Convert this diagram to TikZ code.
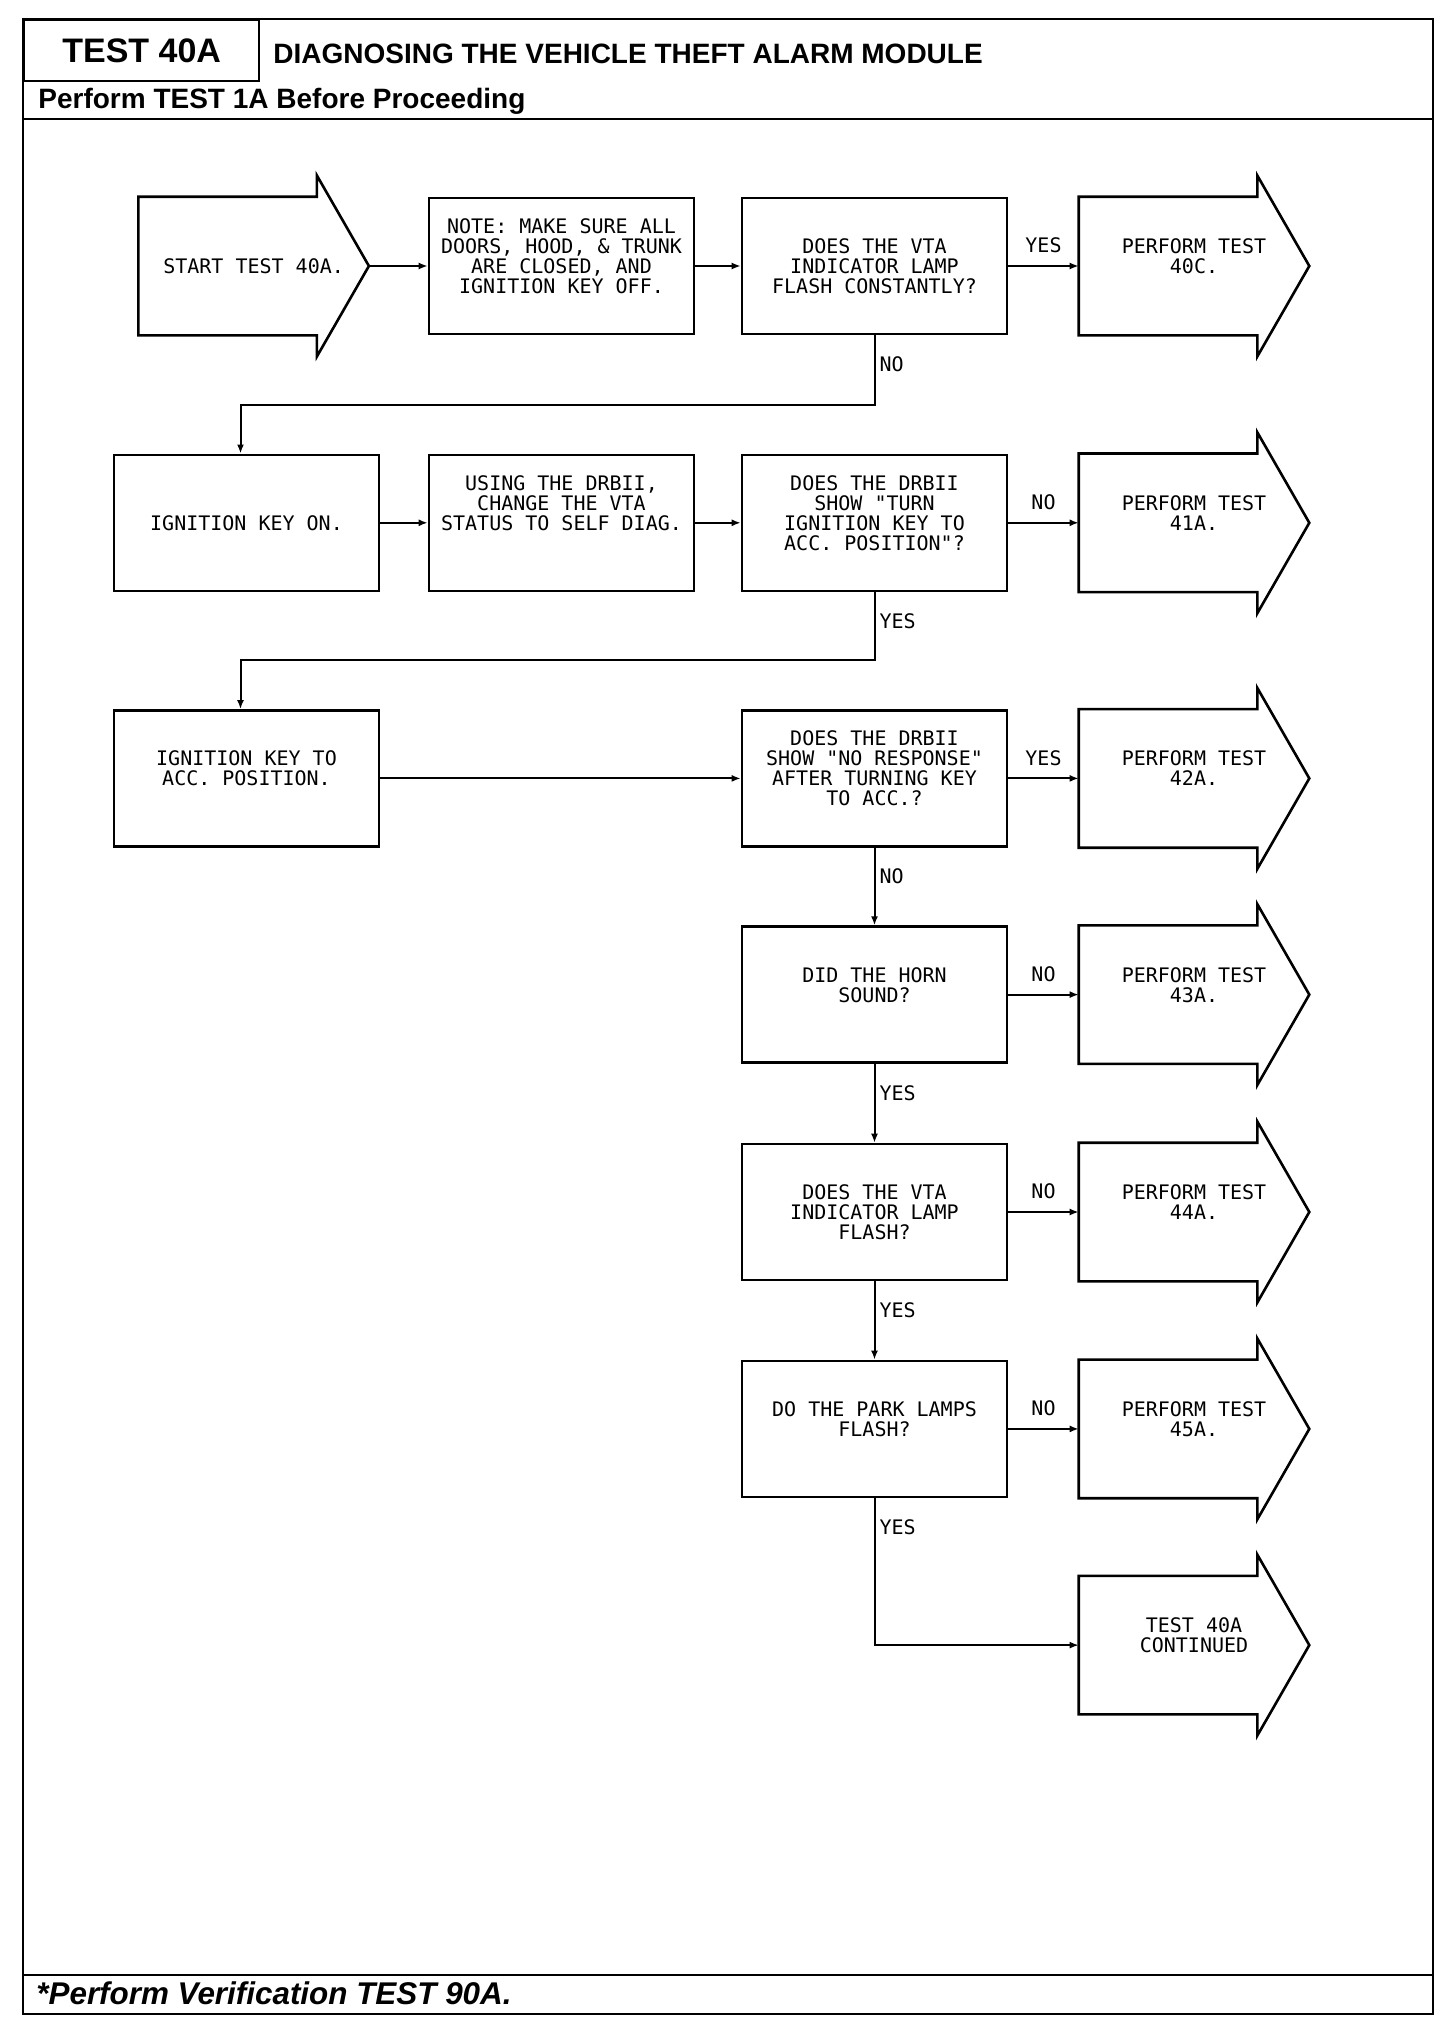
\documentclass[tikz,border=0pt]{standalone}
\usepackage{fontspec}
\setmainfont{Liberation Sans}
\newfontfamily\plotfont{DejaVu Sans Mono}
\usetikzlibrary{arrows.meta}

\begin{document}
\begin{tikzpicture}[
    x=0.5pt, y=-0.5pt,
    frame/.style={line width=1.2pt},
    stepbox/.style={draw, line width=1.3pt, minimum width=132.5pt, minimum height=68pt,
      inner sep=2pt, align=center, font={\plotfont\fontsize{10pt}{10pt}\selectfont}},
    gotobox/.style={stepbox, draw=none, minimum width=114pt},
    outline/.style={line width=1.3pt, line join=miter},
    flow/.style={-{Latex[length=4.5pt, width=3.5pt]}, line width=1pt},
    lbl/.style={font={\plotfont\fontsize{10pt}{10pt}\selectfont}, inner sep=2pt},
    uplbl/.style={lbl, midway, above=4pt},
    downlbl/.style={lbl, pos=0, anchor=west, yshift=-14.5pt},
    head/.style={font={\bfseries\fontsize{14pt}{16pt}\selectfont}, inner sep=0pt, anchor=base west},
  ]
  \useasboundingbox (0,0) rectangle (1456,2024);

  % ---- form frame and header ----
  \draw[frame] (23,19) rectangle (1433,2014);
  \node[draw, frame, anchor=north west, minimum width=117.5pt, minimum height=30.5pt,
    font={\bfseries\fontsize{17pt}{17pt}\selectfont}] (testno) at (23,19) {TEST 40A};
  \node[head] (title) at (273,63) {DIAGNOSING THE VEHICLE THEFT ALARM MODULE};
  \node[head] (pretest) at (38,108) {Perform TEST 1A Before Proceeding};
  \draw[frame] (23,119) -- (1433,119);
  \draw[frame] (23,1975) -- (1433,1975);
  \node[head, font={\bfseries\itshape\fontsize{15.7pt}{17pt}\selectfont}] (verify) at (36,2004)
    {*Perform Verification TEST 90A.};

  % ---- row 1 ----
  \node[gotobox] (start) at (253.6,266) {START TEST 40A.};
  \node[stepbox] (note) at (561.5,266)
    {NOTE: MAKE SURE ALL\\DOORS, HOOD, \& TRUNK\\ARE CLOSED, AND\\IGNITION KEY OFF.\\\mbox{}};
  \node[stepbox] (q1) at (874.5,266) {DOES THE VTA\\INDICATOR LAMP\\FLASH CONSTANTLY?};
  \node[gotobox] (t40c) at (1194,266) {PERFORM TEST\\40C.\\\mbox{}};

  % ---- row 2 ----
  \node[stepbox] (ignon) at (246.5,522.8) {IGNITION KEY ON.};
  \node[stepbox] (usedrb) at (561.5,522.8)
    {USING THE DRBII,\\CHANGE THE VTA\\STATUS TO SELF DIAG.\\\mbox{}\\\mbox{}};
  \node[stepbox] (q2) at (874.5,522.8)
    {DOES THE DRBII\\SHOW "TURN\\IGNITION KEY TO\\ACC. POSITION"?\\\mbox{}};
  \node[gotobox] (t41a) at (1194,522.8) {PERFORM TEST\\41A.\\\mbox{}};

  % ---- row 3 ----
  \node[stepbox] (ignacc) at (246.5,778.4) {IGNITION KEY TO\\ACC. POSITION.\\\mbox{}};
  \node[stepbox] (q3) at (874.5,778.4)
    {DOES THE DRBII\\SHOW "NO RESPONSE"\\AFTER TURNING KEY\\TO ACC.?\\\mbox{}};
  \node[gotobox] (t42a) at (1194,778.4) {PERFORM TEST\\42A.\\\mbox{}};

  % ---- lower column of checks ----
  \node[stepbox] (q4) at (874.5,994.6) {DID THE HORN\\SOUND?\\\mbox{}};
  \node[gotobox] (t43a) at (1194,994.6) {PERFORM TEST\\43A.\\\mbox{}};
  \node[stepbox] (q5) at (874.5,1212) {DOES THE VTA\\INDICATOR LAMP\\FLASH?};
  \node[gotobox] (t44a) at (1194,1212) {PERFORM TEST\\44A.\\\mbox{}};
  \node[stepbox] (q6) at (874.5,1428.9) {DO THE PARK LAMPS\\FLASH?\\\mbox{}};
  \node[gotobox] (t45a) at (1194,1428.9) {PERFORM TEST\\45A.\\\mbox{}};
  \node[gotobox] (cont) at (1194,1645.1) {TEST 40A\\CONTINUED\\\mbox{}};

  % block arrow outlines round the go-to nodes
  \foreach \n in {start,t40c,t41a,t42a,t43a,t44a,t45a,cont}
    \draw[outline] (\n.south west) -- (\n.north west) -- ([xshift=-26pt]\n.north east)
      -- ([xshift=-26pt,yshift=10.6pt]\n.north east) -- (\n.east)
      -- ([xshift=-26pt,yshift=-10.6pt]\n.south east) -- ([xshift=-26pt]\n.south east) -- cycle;

  % ---- connectors ----
  \draw[flow] (start.east) -- (note.west);
  \draw[flow] (note.east) -- (q1.west);
  \draw[flow] (q1.east) -- node[uplbl]{YES} (t40c.west);
  \draw[flow] (q1.south) -- node[downlbl]{NO} ++(0,70) -| ([xshift=-3pt]ignon.north);

  \draw[flow] (ignon.east) -- (usedrb.west);
  \draw[flow] (usedrb.east) -- (q2.west);
  \draw[flow] (q2.east) -- node[uplbl]{NO} (t41a.west);
  \draw[flow] (q2.south) -- node[downlbl]{YES} ++(0,68) -| ([xshift=-3pt]ignacc.north);

  \draw[flow] (ignacc.east) -- (q3.west);
  \draw[flow] (q3.east) -- node[uplbl]{YES} (t42a.west);
  \draw[flow] (q3.south) -- node[downlbl]{NO} (q4.north);
  \draw[flow] (q4.east) -- node[uplbl]{NO} (t43a.west);
  \draw[flow] (q4.south) -- node[downlbl]{YES} (q5.north);
  \draw[flow] (q5.east) -- node[uplbl]{NO} (t44a.west);
  \draw[flow] (q5.south) -- node[downlbl]{YES} (q6.north);
  \draw[flow] (q6.east) -- node[uplbl]{NO} (t45a.west);
  \draw[flow] (q6.south) |- node[downlbl]{YES} (cont.west);

\end{tikzpicture}
\end{document}
